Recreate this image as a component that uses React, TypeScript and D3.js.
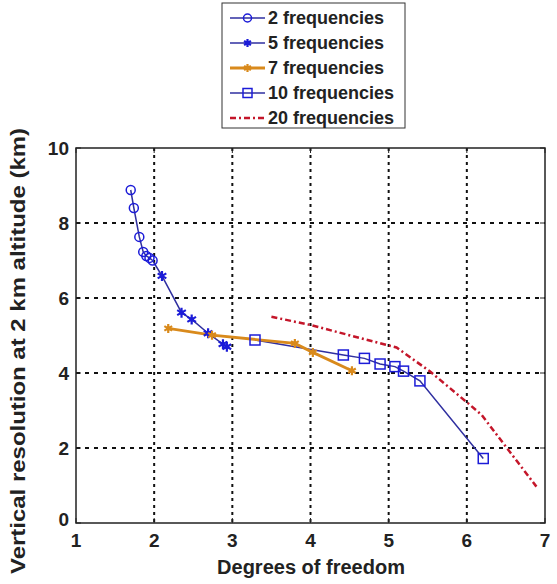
import React from "react";
import * as d3 from "d3";

const freq2X = [1.70, 1.74, 1.81, 1.86, 1.90, 1.94, 1.98];
const freq2Y = [8.88, 8.40, 7.63, 7.23, 7.12, 7.07, 7.00];

const freq5X = [1.98, 2.10, 2.35, 2.48, 2.69, 2.88, 2.93];
const freq5Y = [7.00, 6.59, 5.61, 5.43, 5.06, 4.77, 4.70];

const freq7X = [2.18, 2.74, 3.80, 4.03, 4.53];
const freq7Y = [5.19, 5.01, 4.79, 4.55, 4.06];

const freq10X = [3.29, 4.42, 4.69, 4.89, 5.08, 5.19, 5.40, 6.21];
const freq10Y = [4.88, 4.48, 4.39, 4.24, 4.17, 4.05, 3.79, 1.72];

const freq20X = [3.50, 4.00, 4.95, 5.10, 5.53, 6.04, 6.19, 6.89];
const freq20Y = [5.50, 5.28, 4.76, 4.68, 4.04, 3.15, 2.88, 0.97];

const xTicks = [1, 2, 3, 4, 5, 6, 7];
const yTicks = [0, 2, 4, 6, 8, 10];
const legendLabels = ["2 frequencies", "5 frequencies", "7 frequencies", "10 frequencies", "20 frequencies"];

const W = 557, H = 584;
const L = 76, R = 545, T = 148, B = 523;

const BLUE_LINE = "#2f2fa0";
const BLUE_MARK = "#1c1cd8";
const ORANGE = "#d98a1c";
const RED = "#c4162a";

type Pt = [number, number];
const zip = (xs: number[], ys: number[]): Pt[] => xs.map((x, i) => [x, ys[i]]);

function Star({ cx, cy, s, color }: { cx: number; cy: number; s: number; color: string }) {
  const d = [0, 60, 120].map((a) => {
    const r = (a * Math.PI) / 180;
    const dx = Math.sin(r) * s, dy = Math.cos(r) * s;
    return `M${cx - dx},${cy - dy}L${cx + dx},${cy + dy}`;
  }).join("");
  return (
    <g>
      <path d={d} stroke={color} strokeWidth={2.2} />
      <circle cx={cx} cy={cy} r={2.2} fill={color} />
    </g>
  );
}

export default function App() {
  const x = d3.scaleLinear().domain([1, 7]).range([L, R]);
  const y = d3.scaleLinear().domain([0, 10]).range([B, T]);
  const line = d3.line<Pt>().x((d) => x(d[0])).y((d) => y(d[1]));

  const s2 = zip(freq2X, freq2Y);
  const s5 = zip(freq5X, freq5Y);
  const s7 = zip(freq7X, freq7Y);
  const s10 = zip(freq10X, freq10Y);
  const s20 = zip(freq20X, freq20Y);

  const font = "Arial, 'Liberation Sans', sans-serif";

  const legX = 222, legY = 3, legW = 183, legH = 125;
  const rowY = [18, 43, 68, 93, 118];

  return (
    <svg width={W} height={H} style={{ position: "absolute", left: 0, top: 0, background: "#fff" }} fontFamily={font}>
      <rect x={0} y={0} width={W} height={H} fill="#fff" />
      {/* grid */}
      {xTicks.slice(1, -1).map((t) => (
        <line key={"gx" + t} x1={x(t)} x2={x(t)} y1={T} y2={B} stroke="#111" strokeWidth={2} strokeDasharray="3,4" />
      ))}
      {yTicks.slice(1, -1).map((t) => (
        <line key={"gy" + t} x1={L} x2={R} y1={y(t)} y2={y(t)} stroke="#111" strokeWidth={2} strokeDasharray="4,5" />
      ))}
      {/* box */}
      <rect x={L} y={T} width={R - L} height={B - T} fill="none" stroke="#222" strokeWidth={1.5} />
      {/* tick marks */}
      {xTicks.map((t) => (
        <g key={"tx" + t}>
          <line x1={x(t)} x2={x(t)} y1={B} y2={B - 5} stroke="#222" strokeWidth={1} />
          <line x1={x(t)} x2={x(t)} y1={T} y2={T + 5} stroke="#222" strokeWidth={1} />
        </g>
      ))}
      {yTicks.map((t) => (
        <g key={"ty" + t}>
          <line x1={L} x2={L + 5} y1={y(t)} y2={y(t)} stroke="#222" strokeWidth={1} />
          <line x1={R} x2={R - 5} y1={y(t)} y2={y(t)} stroke="#222" strokeWidth={1} />
        </g>
      ))}
      {/* tick labels */}
      {xTicks.map((t) => (
        <text key={"lx" + t} x={x(t)} y={547} textAnchor="middle" fontSize={19} fontWeight="bold" fill="#222">{t}</text>
      ))}
      {yTicks.map((t) => (
        <text key={"ly" + t} x={69} y={t === 0 ? y(t) + 3 : y(t) + 7} textAnchor="end" fontSize={19} fontWeight="bold" fill="#222">{t}</text>
      ))}
      {/* axis labels */}
      <text x={311} y={574} textAnchor="middle" fontSize={20} fontWeight="bold" fill="#222">Degrees of freedom</text>
      <text transform={`translate(25,351) rotate(-90)`} textAnchor="middle" fontSize={21} fontWeight="bold" fill="#222" textLength={446} lengthAdjust="spacingAndGlyphs">Vertical resolution at 2 km altitude (km)</text>

      {/* series */}
      <path d={line(s20) || ""} fill="none" stroke={RED} strokeWidth={2.5} strokeDasharray="6,3,2,3" />
      <path d={line(s10) || ""} fill="none" stroke={BLUE_LINE} strokeWidth={1.5} />
      <path d={line(s7) || ""} fill="none" stroke={ORANGE} strokeWidth={2.8} />
      <path d={line(s5) || ""} fill="none" stroke={BLUE_LINE} strokeWidth={1.5} />
      <path d={line(s2) || ""} fill="none" stroke={BLUE_LINE} strokeWidth={1.5} />
      {s2.map((d, i) => (
        <circle key={"c" + i} cx={x(d[0])} cy={y(d[1])} r={4.5} fill="none" stroke={BLUE_MARK} strokeWidth={1.5} />
      ))}
      {s5.slice(1).map((d, i) => (
        <Star key={"s" + i} cx={x(d[0])} cy={y(d[1])} s={5} color={BLUE_MARK} />
      ))}
      {s7.map((d, i) => (
        <Star key={"o" + i} cx={x(d[0])} cy={y(d[1])} s={4.5} color={ORANGE} />
      ))}
      {s10.map((d, i) => (
        <rect key={"q" + i} x={x(d[0]) - 5} y={y(d[1]) - 5} width={10} height={10} fill="none" stroke={BLUE_MARK} strokeWidth={1.5} />
      ))}

      {/* legend */}
      <rect x={legX} y={legY} width={legW} height={legH} fill="#fff" stroke="#333" strokeWidth={1} />
      {legendLabels.map((lab, i) => {
        const cy = rowY[i];
        const x1 = 230, x2 = 265, mx = 247.5;
        let stroke = BLUE_LINE, sw = 1.5, dash: string | undefined = undefined;
        if (i === 2) { stroke = ORANGE; sw = 2.8; }
        if (i === 4) { stroke = RED; sw = 2.5; dash = "6,3,2,3"; }
        return (
          <g key={"lg" + i}>
            <line x1={x1} x2={x2} y1={cy} y2={cy} stroke={stroke} strokeWidth={sw} strokeDasharray={dash} />
            {i === 0 && <circle cx={mx} cy={cy} r={4} fill="none" stroke={BLUE_MARK} strokeWidth={1.5} />}
            {i === 1 && <Star cx={mx} cy={cy} s={4} color={BLUE_MARK} />}
            {i === 2 && <Star cx={mx} cy={cy} s={4} color={ORANGE} />}
            {i === 3 && <rect x={mx - 4.5} y={cy - 4.5} width={9} height={9} fill="none" stroke={BLUE_MARK} strokeWidth={1.5} />}
            <text x={268} y={cy + 6} fontSize={18} fontWeight="bold" fill="#222">{lab}</text>
          </g>
        );
      })}
    </svg>
  );
}
